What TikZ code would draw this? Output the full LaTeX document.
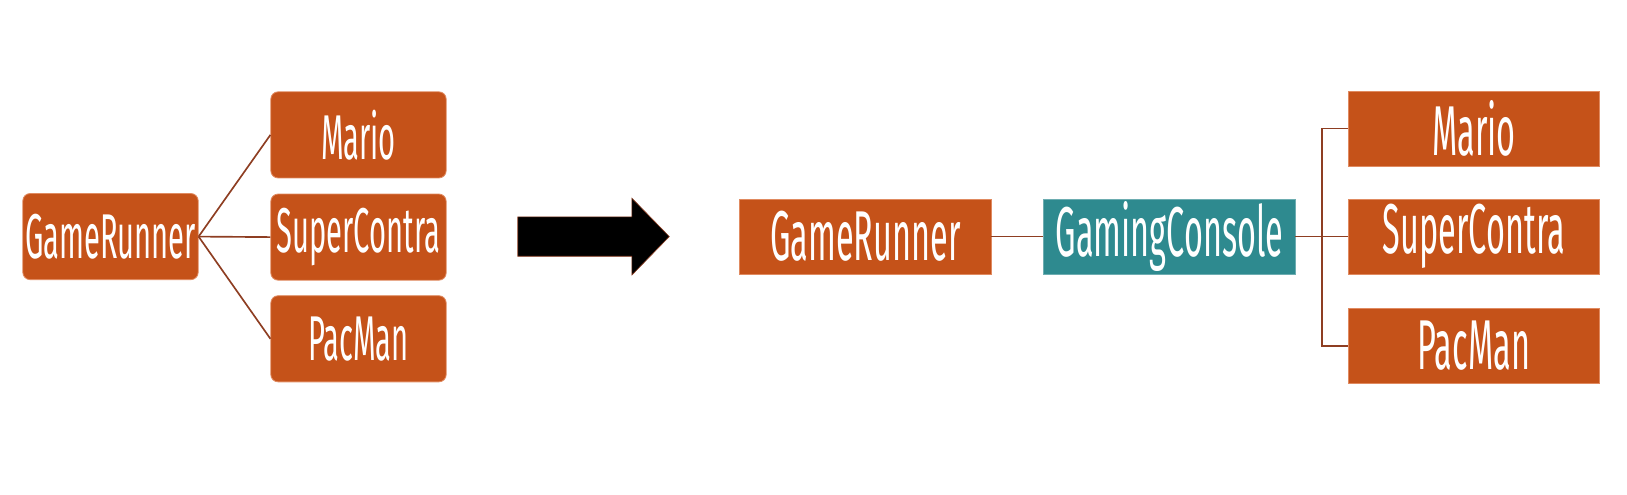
\documentclass[tikz,border=0pt]{standalone}
\usepackage{fontspec}
\newfontfamily\boxfont{Fira Sans}[FakeStretch=0.46]
\usetikzlibrary{positioning}
\definecolor{orng}{HTML}{C55219}
\definecolor{teal2}{HTML}{2E8A8F}
\definecolor{linec}{HTML}{8E3E22}
\definecolor{edgec}{HTML}{E08A60}
\tikzset{
  x=1pt, y=-1pt,
  lbox/.style={fill=orng, draw=edgec, line width=0.8pt, rounded corners=7pt,
    minimum width=169pt, minimum height=83pt, inner sep=0pt,
    text=white, font=\boxfont\fontsize{61}{61}\selectfont},
  rbox/.style={fill=orng, draw=edgec, line width=0.8pt,
    minimum width=242pt, minimum height=72pt, inner sep=0pt,
    text=white, font=\boxfont\fontsize{68}{68}\selectfont},
  tbox/.style={rbox, fill=teal2, draw=teal2!70!white},
  conn/.style={draw=linec, line width=1.6pt},
  bigarrow/.style={fill=black, draw=linec, line width=0.6pt}
}
\begin{document}
\begin{tikzpicture}
\useasboundingbox (0,0) rectangle (1568,477);
% left tree
\node[lbox] (lgr) at (106.5,228) {GameRunner};
\node[lbox] (lma) at (345.5,130) {Mario};
\node[lbox] (lsc) at (345.5,228.5) {SuperContra};
\node[lbox] (lpm) at (345.5,326.5) {PacMan};
\draw[conn] (lgr.east) -- (lma.west);
\draw[conn] (lgr.east) -- (lsc.west);
\draw[conn] (lgr.east) -- (lpm.west);
% big arrow
\path[bigarrow] (499,209) -- (609,209) -- (609,191) -- (645,228) -- (609,265) -- (609,247) -- (499,247) -- cycle;
% right tree
\node[rbox] (rgr) at (834,228) {GameRunner};
\node[tbox] (gc) at (1127,228) {GamingConsole};
\node[rbox] (rma) at (1420.5,124) {Mario};
\node[rbox] (rsc) at (1420.5,228) {SuperContra};
\node[rbox] (rpm) at (1420.5,333.5) {PacMan};
\coordinate (trunk) at (1274,228);
\draw[conn] (rgr.east) -- (gc.west);
\draw[conn] (gc.east) -- (trunk);
\draw[conn] (trunk) |- (rma.west);
\draw[conn] (trunk) -- (rsc.west);
\draw[conn] (trunk) |- (rpm.west);
\end{tikzpicture}
\end{document}
